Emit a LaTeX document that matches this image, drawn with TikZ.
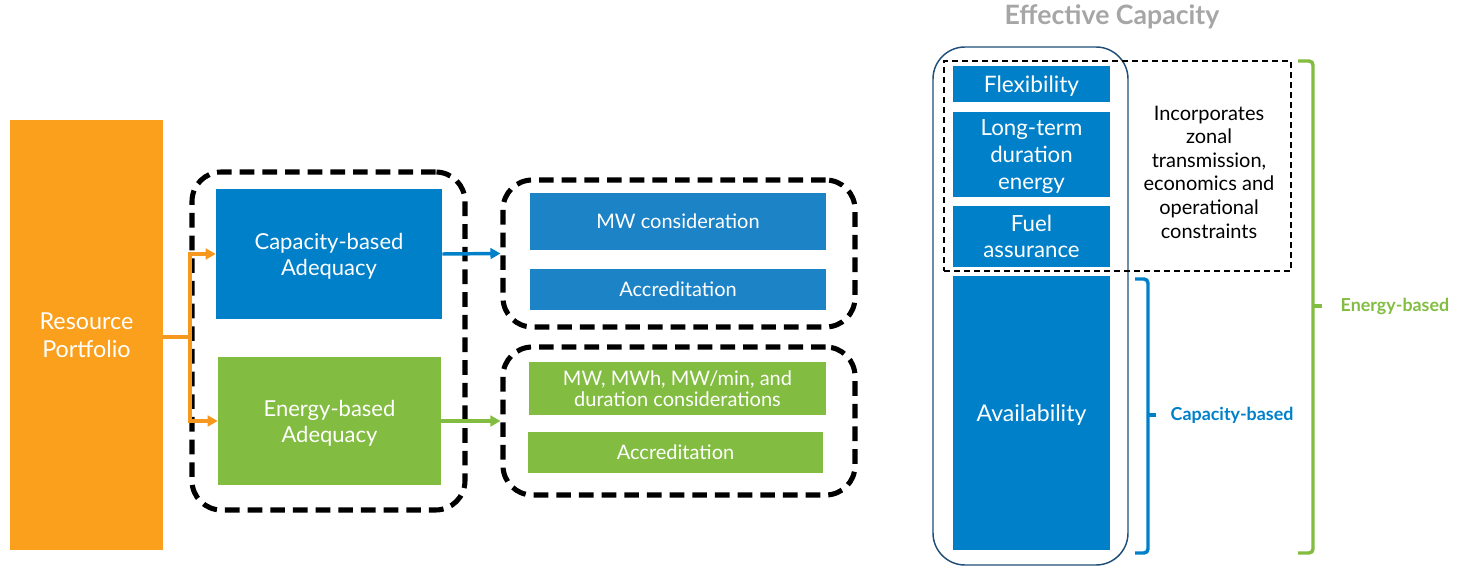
\documentclass[tikz,border=0pt]{standalone}
\usepackage{fontspec}
\setmainfont{Lato}
\usetikzlibrary{arrows.meta}
\definecolor{capblue}{RGB}{0,128,201}
\definecolor{subblue}{RGB}{28,131,199}
\definecolor{engreen}{RGB}{130,189,65}
\definecolor{rporange}{RGB}{250,160,28}
\definecolor{arrorange}{RGB}{246,152,30}
\definecolor{titlegray}{RGB}{166,166,166}
\definecolor{outlineblue}{RGB}{31,78,121}
\tikzset{
  fillbox/.style={draw=none, inner sep=0pt, text=white, align=center, text depth=-1pt},
  bigdash/.style={draw=black, line width=3.8pt, dash pattern=on 11pt off 6pt, rounded corners=22pt},
  thindash/.style={draw=black, line width=1.1pt, dash pattern=on 4.5pt off 3pt},
  flow/.style={line width=2.6pt, -{Triangle[length=7.5pt,width=8pt]}},
  brace/.style={line width=2.6pt, rounded corners=3pt},
}
\begin{document}
\begin{tikzpicture}[x=0.75pt,y=-0.75pt]
\useasboundingbox (0,0) rectangle (1464,567);

% ---- left flow ----
\node[fillbox, fill=rporange, minimum width=114.75pt, minimum height=322.5pt,
      font=\fontsize{17.5}{21}\selectfont] (rp) at (86.5,335) {Resource\\Portfolio};

\node[fillbox, fill=capblue, minimum width=169.5pt, minimum height=97.5pt,
      font=\fontsize{16.5}{19.5}\selectfont] (cap) at (329,254) {Capacity-based\\Adequacy};
\node[fillbox, fill=engreen, minimum width=167.25pt, minimum height=96pt,
      font=\fontsize{16.5}{19.5}\selectfont] (ene) at (329.5,421) {Energy-based\\Adequacy};

\node[bigdash, minimum width=204.75pt, minimum height=253.5pt] (g1) at (328.5,341) {};

\node[bigdash, minimum width=264pt, minimum height=110.25pt] (g2) at (679,253.5) {};
\node[bigdash, minimum width=264pt, minimum height=111pt] (g3) at (679,421) {};

\node[fillbox, fill=subblue, minimum width=222pt, minimum height=42.75pt,
      font=\fontsize{15}{17}\selectfont] (mw) at (678,221.5) {MW consideration};
\node[fillbox, fill=subblue, minimum width=222pt, minimum height=30.75pt,
      font=\fontsize{15}{17}\selectfont] (acc1) at (678,289.5) {Accreditation};
\node[fillbox, fill=engreen, minimum width=222.75pt, minimum height=39.75pt,
      font=\fontsize{15}{16}\selectfont] (mwh) at (677.5,388.5) {MW, MWh, MW/min, and\\duration considerations};
\node[fillbox, fill=engreen, minimum width=221.25pt, minimum height=30.75pt,
      font=\fontsize{15}{17}\selectfont] (acc2) at (675.5,452.5) {Accreditation};

\coordinate (j) at (190,337);
\draw[line width=2.6pt, arrorange] (rp.east |- j) -- (j);
\draw[flow, arrorange] (j) |- (cap.west);
\draw[flow, arrorange] (j) |- (ene.west);
\draw[flow, capblue] (cap.east) -- (g2.west);
\draw[flow, engreen] (ene.east) -- (g3.west);

% ---- effective capacity stack ----
\node[font=\bfseries\fontsize{20}{22}\selectfont, text=titlegray] (title) at (1112,17) {Effective Capacity};

\node[draw=outlineblue, line width=1.1pt, rounded corners=24pt,
      minimum width=146.25pt, minimum height=388.5pt] (stack) at (1030.5,306) {};

\node[fillbox, fill=capblue, minimum width=117.75pt, minimum height=27pt,
      font=\fontsize{17}{20}\selectfont] (flex) at (1031.5,84) {Flexibility};
\node[fillbox, fill=capblue, minimum width=117.75pt, minimum height=63.75pt,
      font=\fontsize{16.7}{20}\selectfont] (lt) at (1031.5,154.5) {Long-term\\duration\\energy};
\node[fillbox, fill=capblue, minimum width=117.75pt, minimum height=45.75pt,
      font=\fontsize{16.7}{19.5}\selectfont] (fuel) at (1031.5,236.5) {Fuel\\assurance};
\node[fillbox, fill=capblue, minimum width=117.75pt, minimum height=205.5pt,
      font=\fontsize{17.3}{20}\selectfont] (avail) at (1031.5,413) {Availability};

\node[thindash, minimum width=260.25pt, minimum height=157.5pt] (inc) at (1117.5,166) {};
\node[align=center, font=\fontsize{15}{17.7}\selectfont] (inctext) at (1209,172)
  {Incorporates\\zonal\\transmission,\\economics and\\operational\\constraints};

% ---- brackets ----
\coordinate (cbt) at (1135,279);
\coordinate (cbb) at (1135,553);
\draw[brace, capblue] (cbt) -- (1148,279) -- (1148,553) -- (cbb);
\draw[brace, capblue] (1148,415) -- (1156,415);
\node[anchor=west, text=capblue, font=\bfseries\fontsize{13.4}{15}\selectfont] (caplbl) at (1166,415) {Capacity-based};

\coordinate (ebt) at (1298,61);
\coordinate (ebb) at (1298,553);
\draw[brace, engreen] (ebt) -- (1313,61) -- (1313,553) -- (ebb);
\draw[brace, engreen] (1313,306) -- (1322,306);
\node[anchor=west, text=engreen, font=\bfseries\fontsize{13.4}{15}\selectfont] (englbl) at (1336,306) {Energy-based};
\end{tikzpicture}
\end{document}
